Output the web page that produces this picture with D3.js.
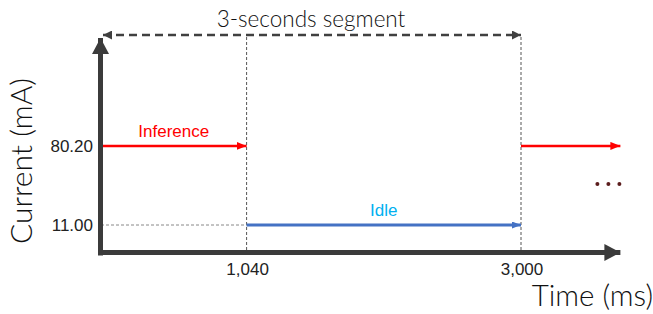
<!DOCTYPE html>
<html>
    <head>
        <title>Current timeline</title>
        <script src="https://d3js.org/d3.v7.min.js"></script>
        <style type="text/css">
            body { margin: 0; background: #fff; }
            .tick-label { font-family: "Liberation Sans", Arial, sans-serif; font-size: 17px; fill: #222; }
            .title { font-family: Lato, "Open Sans", sans-serif; font-weight: 300; fill: #111; }
            .guide { fill: none; stroke: #555; stroke-width: 1; stroke-dasharray: 3,2; }
            .axis-line { stroke: #3b3b3b; stroke-width: 5; }
        </style>
    </head>
    <body>
        <script>
            // data
            var segLabels  = ["Inference", "Idle", ""];
            var segStart   = [0, 1040, 3000];
            var segEnd     = [1040, 3000, 3710];
            var segCurrent = [80.20, 11.00, 80.20];
            var segColors  = ["#ff0000", "#4472c4", "#ff0000"];
            var labelColors = ["#ff0000", "#00b0f0", "#ff0000"];
            var xTicks = [1040, 3000];
            var xTickLabels = ["1,040", "3,000"];
            var yTicks = [80.20, 11.00];
            var yTickLabels = ["80.20", "11.00"];
            var segmentSpan = [0, 3000];

            var svgWidth = 653, svgHeight = 314;

            var xScale = d3.scaleLinear()
                            .domain([0, 3000])
                            .range([101, 521]);

            var yScale = d3.scaleLinear()
                            .domain([-13.5, 175.5])
                            .range([253, 37]);

            var svg = d3.select("body").append("svg")
                            .attr("width", svgWidth)
                            .attr("height", svgHeight);

            var defs = svg.append("defs");
            function marker(id, color, w, h) {
                defs.append("marker")
                    .attr("id", id)
                    .attr("markerUnits", "userSpaceOnUse")
                    .attr("viewBox", "0 0 " + w + " " + h)
                    .attr("refX", w).attr("refY", h / 2)
                    .attr("markerWidth", w).attr("markerHeight", h)
                    .attr("orient", "auto-start-reverse")
                    .append("path")
                        .attr("d", "M0,0L" + w + "," + (h / 2) + "L0," + h + "Z")
                        .attr("fill", color);
            }
            marker("arrRed", "#ff0000", 10, 8);
            marker("arrBlue", "#4472c4", 9, 7);
            marker("arrDash", "#404040", 9, 9);
            marker("arrAxis", "#3b3b3b", 16, 17);

            var x0 = xScale(0), yBase = yScale(-13.5), yTop = yScale(175.5);

            // vertical guides
            svg.selectAll(".vguide")
                .data(xTicks).enter().append("line")
                .attr("class", "guide")
                .attr("x1", d => xScale(d)).attr("x2", d => xScale(d))
                .attr("y1", yTop).attr("y2", yBase);

            // horizontal guide at idle current
            svg.append("line")
                .attr("class", "guide")
                .style("stroke", "#888")
                .attr("x1", x0).attr("x2", xScale(1040))
                .attr("y1", yScale(11)).attr("y2", yScale(11));

            // axes
            svg.append("line")
                .attr("class", "axis-line")
                .attr("x1", x0 - 0.5).attr("x2", x0 - 0.5)
                .attr("y1", yBase + 2.5).attr("y2", yTop + 1)
                .attr("marker-end", "url(#arrAxis)");
            svg.append("line")
                .attr("class", "axis-line")
                .attr("x1", x0 - 3).attr("x2", xScale(3710))
                .attr("y1", yBase - 0.5).attr("y2", yBase - 0.5)
                .attr("marker-end", "url(#arrAxis)");

            // 3-second segment arrow
            svg.append("line")
                .attr("x1", xScale(segmentSpan[0]) + 2).attr("x2", xScale(segmentSpan[1]))
                .attr("y1", 35).attr("y2", 35)
                .attr("stroke", "#404040").attr("stroke-width", 2.5)
                .attr("stroke-dasharray", "8,5")
                .attr("marker-start", "url(#arrDash)")
                .attr("marker-end", "url(#arrDash)");
            svg.append("text")
                .attr("class", "title")
                .attr("x", 311)
                .attr("y", 27)
                .attr("text-anchor", "middle")
                .style("font-size", "22.5px")
                .text("3-seconds segment");

            // current segments
            svg.selectAll(".seg")
                .data(d3.range(segStart.length)).enter().append("line")
                .attr("class", "seg")
                .attr("x1", i => xScale(segStart[i]) + (i === 0 ? 2 : 0))
                .attr("x2", i => xScale(segEnd[i]))
                .attr("y1", i => yScale(segCurrent[i]))
                .attr("y2", i => yScale(segCurrent[i]))
                .attr("stroke", i => segColors[i])
                .attr("stroke-width", i => i === 1 ? 3 : 2.5)
                .attr("marker-end", i => i === 1 ? "url(#arrBlue)" : "url(#arrRed)");

            svg.selectAll(".seg-label")
                .data(d3.range(segStart.length).filter(i => segLabels[i])).enter().append("text")
                .attr("class", "seg-label")
                .attr("x", i => (xScale(segStart[i]) + xScale(segEnd[i])) / 2)
                .attr("y", i => yScale(segCurrent[i]) - 9)
                .attr("text-anchor", "middle")
                .attr("fill", i => labelColors[i])
                .style("font-family", "'Liberation Sans', Arial, sans-serif")
                .style("font-size", "17px")
                .text(i => segLabels[i]);

            // continuation dots
            svg.selectAll(".dots")
                .data([0, 1, 2]).enter().append("circle")
                .attr("cx", d => xScale(3710) - 23 + d * 11)
                .attr("cy", 184)
                .attr("r", 2)
                .attr("fill", "#5b1d1d");

            // tick labels
            svg.selectAll(".ytick")
                .data(yTicks).enter().append("text")
                .attr("class", "tick-label")
                .attr("x", x0 - 8)
                .attr("y", d => yScale(d))
                .attr("dy", "0.35em")
                .attr("text-anchor", "end")
                .text((d, i) => yTickLabels[i]);

            svg.selectAll(".xtick")
                .data(xTicks).enter().append("text")
                .attr("class", "tick-label")
                .attr("x", d => xScale(d) + 1)
                .attr("y", yBase + 22)
                .attr("text-anchor", "middle")
                .text((d, i) => xTickLabels[i]);

            // axis titles
            svg.append("text")
                .attr("class", "title")
                .attr("transform", "translate(32," + 161 + ") rotate(-90)")
                .attr("text-anchor", "middle")
                .style("font-size", "30px")
                .text("Current (mA)");

            svg.append("text")
                .attr("class", "title")
                .attr("x", 653)
                .attr("y", 306)
                .attr("text-anchor", "end")
                .style("font-size", "29.5px")
                .text("Time (ms)");
        </script>
    </body>
</html>
